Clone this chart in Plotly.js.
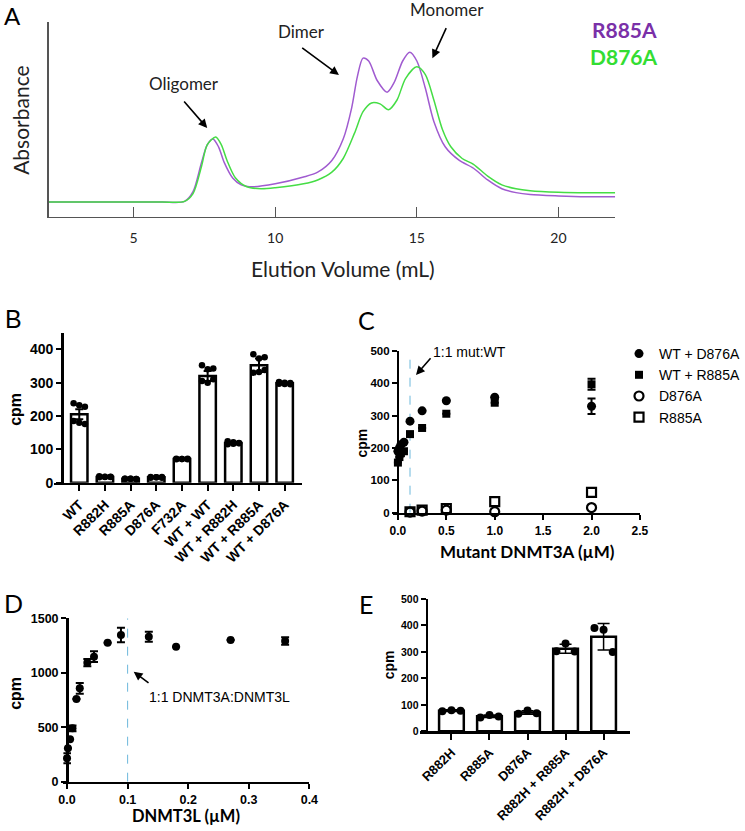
<!DOCTYPE html>
<html><head><meta charset="utf-8">
<script src="https://cdn.plot.ly/plotly-3.0.1.min.js"></script>
<style>body{margin:0;background:#fff}#plot{width:745px;height:831px}</style>
</head><body><div id="plot"></div>
<script>
// ---------- Panel A: size-exclusion traces ----------
const volR885A = [2,4,6,6.8,7.1,7.4,7.6,7.8,8.0,8.2,8.5,8.8,9.2,10,11,11.5,12,12.4,12.7,12.9,13.1,13.3,13.6,13.95,14.2,14.5,14.75,15.0,15.3,15.6,16.0,16.5,17.0,17.5,18,18.5,19,20,21,22];
const absR885A = [0.077,0.077,0.077,0.08,0.13,0.28,0.37,0.40,0.36,0.28,0.20,0.165,0.155,0.17,0.205,0.23,0.29,0.40,0.56,0.72,0.815,0.80,0.70,0.64,0.69,0.80,0.845,0.80,0.66,0.49,0.36,0.29,0.25,0.19,0.145,0.125,0.115,0.108,0.104,0.104];
const volD876A = [2,4,6,6.8,7.1,7.4,7.6,7.9,8.1,8.3,8.6,9.0,9.5,10,11,11.5,12,12.4,12.8,13.1,13.4,13.7,14.0,14.3,14.6,15.0,15.3,15.6,15.9,16.2,16.6,17.0,17.5,18,18.5,19,20,21,22];
const absD876A = [0.077,0.077,0.077,0.08,0.12,0.26,0.37,0.41,0.37,0.29,0.20,0.155,0.145,0.15,0.17,0.19,0.23,0.30,0.43,0.54,0.585,0.58,0.55,0.60,0.71,0.77,0.73,0.60,0.45,0.36,0.30,0.27,0.21,0.165,0.145,0.135,0.127,0.124,0.124];
const ticksA = [5,10,15,20];

// ---------- Panel B ----------
const catsB = ["WT","R882H","R885A","D876A","F732A","WT + WT","WT + R882H","WT + R885A","WT + D876A"];
const meanB = [205,17,12,16,71,320,119,352,298];
const errB  = [15,1,0.5,1,1,15,2,20,2];
const repsB = [
  [238,232,228,185,180,176],
  [19,18,17,16,17,18],
  [12,12,11,12,12,11],
  [17,16,15,15,16,17],
  [72,71,70,70,71,72],
  [352,340,342,305,300,310],
  [124,121,118,115,117,119],
  [385,372,376,330,332,338],
  [302,300,299,297,296,295]
];

// ---------- Panel C ----------
const concC = [0,0.0156,0.031,0.0625,0.125,0.25,0.5,1,2];
const wtD876A = [190,200,210,218,283,315,346,357,329];
const wtD876Aerr = [0,0,0,0,0,0,0,0,24];
const wtR885A = [155,172,184,190,243,262,306,340,397];
const wtR885Aerr = [0,0,0,0,0,0,0,0,17];
const concMut = [0.125,0.25,0.5,1,2];
const d876A = [2,5,8,3,16];
const r885A = [3,8,13,34,63];
const ratioC = 0.125;

// ---------- Panel D ----------
const concD = [0,0.0015,0.005,0.009,0.0155,0.021,0.0335,0.0445,0.067,0.089,0.135,0.18,0.27,0.36];
const cpmD  = [215,307,389,490,759,857,1093,1148,1276,1347,1331,1239,1301,1292];
const errD  = [46,0,0,26,0,49,34,49,0,66,46,0,0,35];
const ratioD = 0.1;

// ---------- Panel E ----------
const catsE = ["R882H","R885A","D876A","R882H + R885A","R882H + D876A"];
const meanE = [78,57,71,312,357];
const errE  = [3,5,7,17,50];
const repsE = [[76,80,78],[52,62,56],[66,79,68],[303,332,302],[390,384,300]];

// ---------- helpers ----------
const W = 745, H = 831;
const fx = v => v / W;
const fy = v => 1 - v / H;
const ARIAL = "Liberation Sans, Arial, sans-serif";
const CAL = "Lato, Open Sans, sans-serif";
const purple = "#a05bd0", green = "#45dd45";

function jitter(reps, spread){
  const xs = [], ys = [];
  reps.forEach((arr, i) => arr.forEach((v, j) => {
    const n = Math.min(arr.length, 3);
    xs.push(i + ((j % n) - (n - 1) / 2) * spread);
    ys.push(v);
  }));
  return {xs, ys};
}
const idxB = catsB.map((_, i) => i);
const idxE = catsE.map((_, i) => i);
const dotsB = jitter(repsB, 0.22);
const dotsE = jitter(repsE, 0.24);

const traces = [
  // A
  {x: volR885A, y: absR885A, xaxis:'x', yaxis:'y', mode:'lines', line:{color:purple, width:1.5, shape:'spline', smoothing:0.8}, showlegend:false, name:'R885A'},
  {x: volD876A, y: absD876A, xaxis:'x', yaxis:'y', mode:'lines', line:{color:green, width:1.5, shape:'spline', smoothing:0.8}, showlegend:false, name:'D876A'},
  // B
  {type:'bar', x: idxB, y: meanB, xaxis:'x2', yaxis:'y2', width:0.64, marker:{color:'#fff', line:{color:'#000', width:2.5}},
   error_y:{type:'data', array: errB, color:'#000', thickness:2, width:4}, showlegend:false},
  {x: dotsB.xs, y: dotsB.ys, xaxis:'x2', yaxis:'y2', mode:'markers', marker:{color:'#000', size:6.5}, showlegend:false, cliponaxis:false},
  // C
  {x:[ratioC, ratioC], y:[0,500], xaxis:'x3', yaxis:'y3', mode:'lines', line:{color:'#6cb8db', width:1, dash:'dash'}, showlegend:false},
  {x: concC, y: wtD876A, xaxis:'x3', yaxis:'y3', mode:'markers', name:'WT + D876A',
   marker:{symbol:'circle', color:'#000', size:9}, error_y:{type:'data', array:wtD876Aerr, color:'#000', thickness:2, width:4}, cliponaxis:false},
  {x: concC, y: wtR885A, xaxis:'x3', yaxis:'y3', mode:'markers', name:'WT + R885A',
   marker:{symbol:'square', color:'#000', size:8}, error_y:{type:'data', array:wtR885Aerr, color:'#000', thickness:2, width:4}, cliponaxis:false},
  {x: concMut, y: d876A, xaxis:'x3', yaxis:'y3', mode:'markers', name:'D876A',
   marker:{symbol:'circle-open', color:'#000', size:9, line:{width:2.2}}, cliponaxis:false},
  {x: concMut, y: r885A, xaxis:'x3', yaxis:'y3', mode:'markers', name:'R885A',
   marker:{symbol:'square-open', color:'#000', size:9, line:{width:2.2}}, cliponaxis:false},
  // D
  {x:[ratioD, ratioD], y:[0,1500], xaxis:'x4', yaxis:'y4', mode:'lines', line:{color:'#6cb8db', width:1, dash:'dash'}, showlegend:false},
  {x: concD, y: cpmD, xaxis:'x4', yaxis:'y4', mode:'markers', marker:{color:'#000', size:8},
   error_y:{type:'data', array: errD, color:'#000', thickness:2, width:4}, showlegend:false, cliponaxis:false},
  // E
  {type:'bar', x: idxE, y: meanE, xaxis:'x5', yaxis:'y5', width:0.65, marker:{color:'#fff', line:{color:'#000', width:2.5}},
   error_y:{type:'data', array: errE, color:'#000', thickness:1.5, width:6}, showlegend:false},
  {x: dotsE.xs, y: dotsE.ys, xaxis:'x5', yaxis:'y5', mode:'markers', marker:{color:'#000', size:8}, showlegend:false, cliponaxis:false}
];

const boldTick = (s) => ({family: ARIAL, size: s, color:'#000', weight: 700});
const gpAxis = {showgrid:false, zeroline:false, showline:true, linecolor:'#000', linewidth:2.5, ticks:'outside', ticklen:5, tickwidth:2, tickcolor:'#000'};

const layout = {
  width: W, height: H, margin:{l:0,r:0,t:0,b:0}, paper_bgcolor:'#fff', plot_bgcolor:'rgba(0,0,0,0)',
  showlegend: true,
  legend:{x: fx(625), y: fy(338), xanchor:'left', yanchor:'top', font:{family:ARIAL, size:14, color:'#000'}, bgcolor:'rgba(0,0,0,0)', itemwidth:30, traceorder:'normal'},
  // A
  xaxis:{domain:[fx(49), fx(621)], range:[2,22], anchor:'y', showgrid:false, zeroline:false, showline:true, linecolor:'#555', linewidth:1.2,
         ticks:'inside', ticklen:10, tickcolor:'#555', tickwidth:1, tickvals: ticksA, tickfont:{family:CAL, size:14, color:'#222'}, ticklabelstandoff:8},
  yaxis:{domain:[fy(217), fy(22)], range:[0,1], anchor:'x', showgrid:false, zeroline:false, showline:true, linecolor:'#555', linewidth:1.2, showticklabels:false, ticks:''},
  // B
  xaxis2:Object.assign({}, gpAxis, {domain:[fx(55), fx(305)], range:[-0.965, 8.68], anchor:'y2', tickvals: idxB, ticktext: catsB, tickangle:-45, tickfont: boldTick(14), ticklen:6}),
  yaxis2:Object.assign({}, gpAxis, {domain:[fy(482.7), fy(332.6)], range:[0,450], anchor:'free', position: fx(62.7), tickvals:[0,100,200,300,400], tickfont: boldTick(14)}),
  // C
  xaxis3:Object.assign({}, gpAxis, {domain:[fx(396.7), fx(646)], range:[-0.051, 2.5], anchor:'y3', tickvals:[0,0.5,1,1.5,2,2.5], tickformat:'.1f', tickfont: boldTick(12)}),
  yaxis3:Object.assign({}, gpAxis, {domain:[fy(512.7), fy(351)], range:[0,500], anchor:'free', position: fx(401.7), tickvals:[0,100,200,300,400,500], tickfont: boldTick(11.5)}),
  // D
  xaxis4:Object.assign({}, gpAxis, {domain:[fx(64), fx(312.3)], range:[-0.006, 0.4], anchor:'y4', tickvals:[0,0.1,0.2,0.3,0.4], tickformat:'.1f', tickfont: boldTick(12.5)}),
  yaxis4:Object.assign({}, gpAxis, {domain:[fy(781.7), fy(618.3)], range:[0,1500], anchor:'free', position: fx(67.7), tickvals:[0,500,1000,1500], tickfont: boldTick(12.5)}),
  // E
  xaxis5:Object.assign({}, gpAxis, {domain:[fx(424), fx(636)], range:[-0.826, 4.695], anchor:'y5', tickvals: idxE, ticktext: catsE, tickangle:-45, tickfont: boldTick(13), ticklen:6}),
  yaxis5:Object.assign({}, gpAxis, {domain:[fy(731.3), fy(599)], range:[0,500], anchor:'free', position: fx(430.7), tickvals:[0,100,200,300,400,500], tickfont: boldTick(10.5), linewidth:2}),
  annotations: []
};

const ann = layout.annotations;
function txt(x, y, text, font, extra){ ann.push(Object.assign({xref:'paper', yref:'paper', x: fx(x), y: fy(y), text, showarrow:false, font, xanchor:'center', yanchor:'middle'}, extra||{})); }
function arrow(xa, ya, hx, hy, tx, ty){ ann.push({xref:xa, yref:ya, axref:xa, ayref:ya, x:hx, y:hy, ax:tx, ay:ty, text:'', showarrow:true, arrowhead:2, arrowsize:1.1, arrowwidth:1.6, arrowcolor:'#000'}); }

// Panel letters
txt(13, 15, 'A', {family:CAL, size:24, color:'#000'});
txt(14, 319, 'B', {family:ARIAL, size:25, color:'#000'});
txt(370, 320, 'C', {family:CAL, size:25, color:'#000'});
txt(14, 603, 'D', {family:CAL, size:25, color:'#000'});
txt(369, 604, 'E', {family:CAL, size:25, color:'#000'});

// Panel A text
txt(20, 120, 'Absorbance', {family:CAL, size:21, color:'#222'}, {textangle:-90});
txt(346, 268, 'Elution Volume (mL)', {family:CAL, size:21, color:'#222'});
txt(630, 30, 'R885A', {family:CAL, size:21, color:'#7a30a8', weight:700});
txt(630, 57, 'D876A', {family:CAL, size:21, color:'#33dd33', weight:700});
txt(186, 83, 'Oligomer', {family:CAL, size:17, color:'#222'});
txt(304, 31, 'Dimer', {family:CAL, size:17, color:'#222'});
txt(451, 9, 'Monomer', {family:CAL, size:17, color:'#222'});
arrow('x','y', 7.6, 0.456, 6.74, 0.60);
arrow('x','y', 12.25, 0.728, 10.9, 0.873);
arrow('x','y', 15.55, 0.814, 16.06, 0.976);

// Panel B/C/D/E axis titles
txt(16, 409, 'cpm', {family:ARIAL, size:16, color:'#000', weight:700}, {textangle:-90});
txt(365, 443, 'cpm', {family:ARIAL, size:14, color:'#000', weight:700}, {textangle:-90});
txt(533, 551, 'Mutant DNMT3A (µM)', {family:CAL, size:17, color:'#000', weight:700});
txt(15, 693, 'cpm', {family:ARIAL, size:16, color:'#000', weight:700}, {textangle:-90});
txt(188, 816, 'DNMT3L (µM)', {family:CAL, size:16.5, color:'#000', weight:700});
txt(393, 665, 'cpm', {family:ARIAL, size:14, color:'#000', weight:700}, {textangle:-90});

// C and D notes
txt(474, 352, '1:1 mut:WT', {family:ARIAL, size:14, color:'#000'});
arrow('x3','y3', 0.187, 426, 0.351, 482);
txt(222, 697, '1:1 DNMT3A:DNMT3L', {family:ARIAL, size:14, color:'#000'});
arrow('x4','y4', 0.110, 1010, 0.137, 897);

Plotly.newPlot('plot', traces, layout, {staticPlot:true});
</script>
</body></html>
